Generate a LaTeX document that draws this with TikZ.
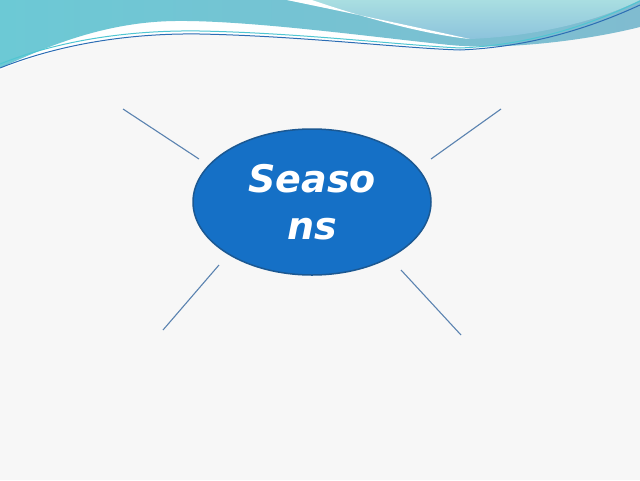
\documentclass[tikz,border=0pt]{standalone}
\usepackage{fontspec}
\usetikzlibrary{shapes.geometric}
\newfontfamily\seafont{DejaVu Sans}[BoldItalicFont={DejaVu Sans Bold Oblique}]
\definecolor{bgc}{HTML}{F7F7F7}
\definecolor{tealL}{HTML}{6CC9D5}
\definecolor{tealR}{HTML}{80BCD0}
\definecolor{lightT}{HTML}{A9DEE1}
\definecolor{lightB}{HTML}{8CC3DC}
\definecolor{lineblue}{HTML}{2C6DB4}
\definecolor{linecyan}{HTML}{4FC6D2}
\definecolor{ellfill}{HTML}{1570C6}
\definecolor{elldraw}{HTML}{1B5892}
\definecolor{spokec}{HTML}{5A82B0}
\tikzset{
  spoke/.style={draw=spokec, line width=1.1pt},
  centre/.style={ellipse, fill=ellfill, draw=elldraw, line width=1.5pt,
    minimum width=238pt, minimum height=146pt, inner sep=0pt,
    text=white, align=center, font=\seafont\bfseries\itshape\fontsize{38}{47}\selectfont}
}
\begin{document}
\begin{tikzpicture}[x=1pt,y=-1pt]
\useasboundingbox (0,0) rectangle (640,480);
\fill[bgc] (0,0) rectangle (640,480);
% white band above the lines
\fill[white] (0,0) -- (0,70) .. controls (60,45) and (130,33) .. (200,34)
  .. controls (300,36) and (400,48) .. (460,51) .. controls (530,48) and (590,28) .. (640,6) -- (640,0) -- cycle;
% teal wave
\shade[left color=tealL, right color=tealR] (0,0) -- (0,68)
  .. controls (40,50) and (100,22) .. (175,21)
  .. controls (250,20) and (380,38) .. (450,45)
  .. controls (500,50) and (580,42) .. (640,27) -- (640,0) -- cycle;
% light wave
\shade[top color=lightT, bottom color=lightB] (287,0)
  .. controls (360,15) and (420,28) .. (470,39)
  .. controls (540,36) and (600,20) .. (640,0) -- cycle;
% white stripe
\fill[white] (287,0) .. controls (360,15) and (420,28) .. (470,39)
  .. controls (430,35) and (370,20) .. (312,0) -- cycle;
% thin lines
\draw[linecyan, line width=1pt] (0,64) .. controls (60,40) and (130,30) .. (200,31)
  .. controls (300,33) and (400,45) .. (460,48) .. controls (530,45) and (590,25) .. (640,1);
\draw[lineblue, line width=1pt] (0,68) .. controls (60,44) and (130,33) .. (200,34)
  .. controls (300,36) and (400,48) .. (460,50) .. controls (530,47) and (590,28) .. (640,5);
% central node
\node[centre] (seasons) at (312,202) {Seaso\\ns};
% spokes
\coordinate (tla) at (123,109);
\coordinate (tlb) at (199,159);
\coordinate (tra) at (501,109);
\coordinate (trb) at (431,159);
\coordinate (bla) at (219,265);
\coordinate (blb) at (163,330);
\coordinate (bra) at (401,270);
\coordinate (brb) at (461,335);
\draw[spoke] (tla) -- (tlb);
\draw[spoke] (tra) -- (trb);
\draw[spoke] (bla) -- (blb);
\draw[spoke] (bra) -- (brb);
\end{tikzpicture}
\end{document}
